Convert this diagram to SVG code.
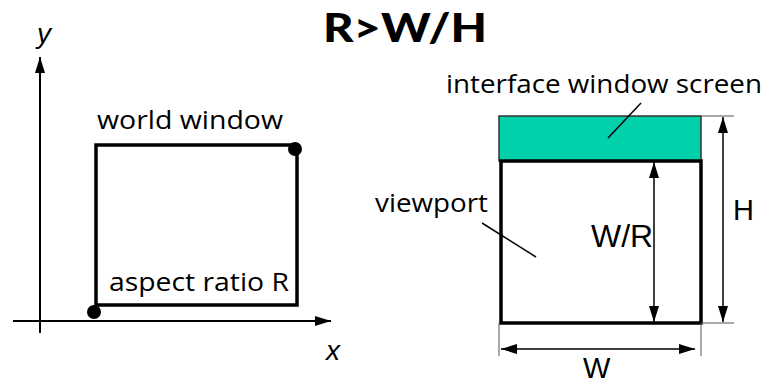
<svg xmlns="http://www.w3.org/2000/svg" width="765" height="380" viewBox="0 0 765 380">
<defs>
<style>
.lbl{font-family:"Open Sans",Lato,"Liberation Sans",sans-serif;font-size:25px;fill:#000}
.ttl{font-family:Lato,"Open Sans","Liberation Sans",sans-serif;font-size:40px;font-weight:900;fill:#000}
.hv{font-family:"Liberation Sans",Arial,sans-serif;fill:#000}
.ax{stroke:#000;stroke-width:2;fill:none}
.thick{stroke:#000;stroke-width:3.5;fill:none}
.thin{stroke:#000;stroke-width:1.5;fill:none}
.ext{stroke:#555;stroke-width:1;fill:none}
</style>
<marker id="ah" viewBox="0 0 16 10" refX="16" refY="5" markerWidth="16" markerHeight="10" markerUnits="userSpaceOnUse" orient="auto-start-reverse">
<path d="M0,0 L16,5 L0,10 Z" fill="#000"/>
</marker>
</defs>
<rect width="765" height="380" fill="#fff"/>
<text class="ttl" x="323" y="42" textLength="164" lengthAdjust="spacingAndGlyphs">R&gt;W/H</text>
<g id="axes">
<line class="ax" x1="40" y1="333" x2="40" y2="57" marker-end="url(#ah)"/>
<line class="ax" x1="13" y1="321" x2="331" y2="321" marker-end="url(#ah)"/>
<text class="hv" x="37" y="43" font-size="28" font-style="italic">y</text>
<text class="hv" x="326" y="360" font-size="28" font-style="italic">x</text>
</g>
<g id="world-window">
<rect class="thick" x="96" y="145" width="201" height="160"/>
<circle cx="94" cy="312" r="7" fill="#000"/>
<circle cx="295" cy="149" r="7" fill="#000"/>
<text class="lbl" x="97" y="129" textLength="186" lengthAdjust="spacingAndGlyphs">world window</text>
<text class="lbl" x="109" y="291" textLength="180" lengthAdjust="spacingAndGlyphs">aspect ratio R</text>
</g>
<g id="screen">
<rect x="499" y="116" width="202" height="45" fill="#00D1AA" stroke="#333" stroke-width="1.5"/>
<text class="lbl" x="446" y="93" textLength="316" lengthAdjust="spacingAndGlyphs">interface window screen</text>
</g>
<g id="viewport">
<rect class="thick" x="501" y="161" width="200" height="162"/>
<text class="lbl" x="375" y="212" textLength="113" lengthAdjust="spacingAndGlyphs">viewport</text>
</g>
<g id="connectors">
<line class="thin" x1="641" y1="103" x2="608" y2="138"/>
<line class="thin" x1="482" y1="223" x2="536" y2="257"/>
<line class="thin" x1="654" y1="162" x2="654" y2="322" marker-start="url(#ah)" marker-end="url(#ah)"/>
<line class="ext" x1="701" y1="116" x2="734" y2="116"/>
<line class="ext" x1="701" y1="323" x2="734" y2="323"/>
<line class="thin" x1="723" y1="117" x2="723" y2="322" marker-start="url(#ah)" marker-end="url(#ah)"/>
<line class="ext" x1="499" y1="323" x2="499" y2="356"/>
<line class="ext" x1="701" y1="323" x2="701" y2="356"/>
<line class="thin" x1="501" y1="349" x2="695" y2="349" marker-start="url(#ah)" marker-end="url(#ah)"/>
</g>
<text class="hv" x="591" y="247" font-size="32">W/R</text>
<text class="hv" x="733" y="220" font-size="29">H</text>
<text class="hv" x="583" y="378" font-size="29">W</text>
</svg>
